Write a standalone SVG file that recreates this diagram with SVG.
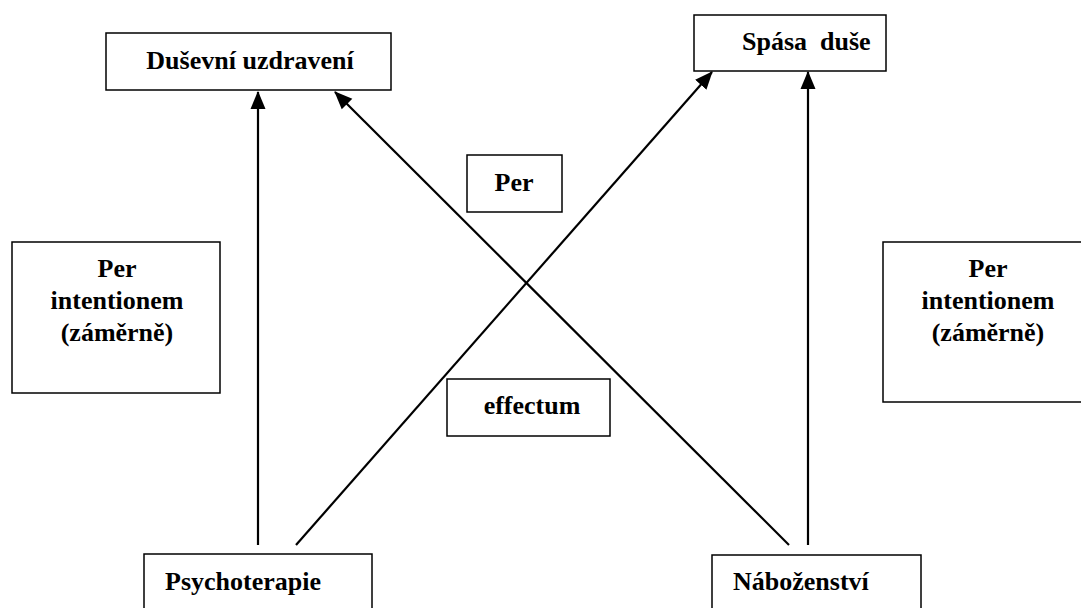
<svg xmlns="http://www.w3.org/2000/svg" width="1081" height="608" viewBox="0 0 1081 608">
<style>
.box{fill:#fff;stroke:#000;stroke-width:1.5}
text{font-family:'Liberation Serif','Times New Roman',Times,serif;font-weight:700;font-size:26px;fill:#000}
.c{text-anchor:middle}
.ln{stroke:#000;stroke-width:2.2;fill:none}
</style>
<defs>
<marker id="ah" markerWidth="20" markerHeight="16" refX="17" refY="8" orient="auto" markerUnits="userSpaceOnUse" viewBox="0 0 20 16">
<path d="M0,0.5 L18,8 L0,15.5 Z" fill="#000"/>
</marker>
</defs>
<rect width="1081" height="608" fill="#fff"/>
<g id="dusevni">
<rect class="box" x="106" y="33" width="285" height="57"/>
<text class="c" x="250" y="69" font-family="Liberation Serif">Duševní uzdravení</text>
</g>
<g id="spasa">
<rect class="box" x="694" y="15" width="192" height="56"/>
<text x="742" y="50" font-family="Liberation Serif" xml:space="preserve">Spása  duše</text>
</g>
<g id="per">
<rect class="box" x="467" y="155" width="95" height="57"/>
<text class="c" x="514" y="191" font-family="Liberation Serif">Per</text>
</g>
<g id="effectum">
<rect class="box" x="447" y="379" width="163" height="57"/>
<text class="c" x="532" y="414" font-family="Liberation Serif">effectum</text>
</g>
<g id="intent-left">
<rect class="box" x="12" y="242" width="208" height="151"/>
<text class="c" x="117" y="277" font-family="Liberation Serif">Per</text>
<text class="c" x="117" y="309" font-family="Liberation Serif">intentionem</text>
<text class="c" x="117" y="341" font-family="Liberation Serif">(záměrně)</text>
</g>
<g id="intent-right">
<rect class="box" x="883" y="242" width="210" height="160"/>
<text class="c" x="988" y="277" font-family="Liberation Serif">Per</text>
<text class="c" x="988" y="309" font-family="Liberation Serif">intentionem</text>
<text class="c" x="988" y="341" font-family="Liberation Serif">(záměrně)</text>
</g>
<g id="psychoterapie">
<rect class="box" x="144" y="554" width="228" height="70"/>
<text x="165" y="590" font-family="Liberation Serif">Psychoterapie</text>
</g>
<g id="nabozenstvi">
<rect class="box" x="712" y="555" width="209" height="70"/>
<text x="733" y="590" font-family="Liberation Serif">Náboženství</text>
</g>
<g id="connectors">
<line class="ln" x1="258" y1="545" x2="258" y2="92" marker-end="url(#ah)"/>
<line class="ln" x1="296" y1="545" x2="712" y2="72" marker-end="url(#ah)"/>
<line class="ln" x1="808" y1="545" x2="808" y2="72" marker-end="url(#ah)"/>
<line class="ln" x1="789" y1="545" x2="335" y2="92" marker-end="url(#ah)"/>
</g>
</svg>
